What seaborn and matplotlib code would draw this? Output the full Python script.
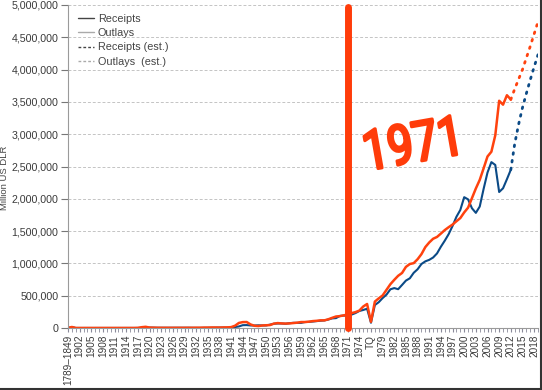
import numpy as np
import pandas as pd
import matplotlib
matplotlib.use('Agg')
import matplotlib.pyplot as plt
import seaborn as sns
from matplotlib.lines import Line2D
from matplotlib.textpath import TextPath
from matplotlib.patches import PathPatch
from matplotlib.font_manager import FontProperties
import matplotlib.transforms as mtransforms

# categories (fiscal years, with the 1976 transition quarter)
categories = (['1789–1849', '1850–1900'] + [str(y) for y in range(1901, 1977)]
              + ['TQ'] + [str(y) for y in range(1977, 2020)])

# million US dollars, actuals 1789 to 2012
receipts = [1160, 14462,
            588, 562, 562, 541, 544, 595, 666, 602, 604, 676,
            702, 693, 714, 725, 683, 761, 1101, 3645, 5130, 6649,
            5571, 4026, 3853, 3871, 3641, 3795, 4013, 3900, 3862, 4058,
            3116, 1924, 1997, 2955, 3609, 3923, 5387, 6751, 6295, 6548,
            8712, 14634, 24001, 43747, 45159, 39296, 38514, 41560, 39415, 39443,
            51616, 66167, 69608, 69701, 65451, 74587, 79990, 79636, 79249, 92492,
            94388, 99676, 106560, 112613, 116817, 130835, 148822, 152973, 186882, 192807,
            187139, 207309, 230799, 263224, 279090, 298060, 81232,
            355559, 399561, 463302, 517112,
            599272, 617766, 600562, 666438, 734037, 769155, 854288, 909238, 991104, 1031958,
            1054988, 1091208, 1154334, 1258566, 1351790, 1453053, 1579232, 1721728, 1827452, 2025191,
            1991082, 1853136, 1782314, 1880114, 2153611, 2406869, 2567985, 2523991, 2104989, 2162706,
            2303466, 2450164]

outlays = [1090, 15453,
           525, 485, 517, 584, 567, 570, 579, 659, 694, 694,
           691, 690, 715, 726, 746, 713, 1954, 12677, 18493, 6358,
           5062, 3289, 3140, 2908, 2924, 2930, 2857, 2961, 3127, 3320,
           3577, 4659, 4598, 6541, 6412, 8228, 7580, 6840, 9141, 9468,
           13653, 35137, 78555, 91304, 92712, 55232, 34496, 29764, 38835, 42562,
           45514, 67686, 76101, 70855, 68444, 70640, 76578, 82405, 92098, 92191,
           97723, 106821, 111316, 118528, 118228, 134532, 157464, 178134, 183640, 195649,
           210172, 230681, 245707, 269359, 332332, 371792, 95975,
           409218, 458746, 504028, 590941,
           678241, 745743, 808364, 851805, 946344, 990382, 1004017, 1064416, 1143743, 1252993,
           1324226, 1381529, 1409386, 1461752, 1515742, 1560484, 1601116, 1652458, 1701842, 1788950,
           1862846, 2010894, 2159899, 2292841, 2471957, 2655050, 2728686, 2982544, 3517677, 3457079,
           3603059, 3537127]

# estimates 2012 to 2019
est_years = ['2012', '2013', '2014', '2015', '2016', '2017', '2018', '2019']
receipts_est = [2450164, 2850000, 3150000, 3410000, 3630000, 3840000, 4040000, 4230000]
outlays_est = [3537127, 3700000, 3850000, 4000000, 4180000, 4360000, 4550000, 4740000]

pos = np.arange(len(categories))
df = pd.DataFrame({'pos': pos[:len(receipts)], 'Receipts': receipts, 'Outlays': outlays})
est_pos = [categories.index(y) for y in est_years]
df_est = pd.DataFrame({'pos': est_pos, 'Receipts (est.)': receipts_est,
                       'Outlays  (est.)': outlays_est})

sns.set_style('white')
plt.rcParams['font.family'] = ['Liberation Sans', 'DejaVu Sans']

blue = '#0b4a86'
red = '#ff420e'

fig = plt.figure(figsize=(5.42, 3.9), dpi=100)
ax = fig.add_axes([68 / 542, 62 / 390, 470 / 542, 323 / 390])

sns.lineplot(data=df, x='pos', y='Receipts', ax=ax, color=blue, lw=1.5)
sns.lineplot(data=df, x='pos', y='Outlays', ax=ax, color=red, lw=1.8)
sns.lineplot(data=df_est, x='pos', y='Receipts (est.)', ax=ax, color=blue, lw=2,
             linestyle=(0, (0.6, 2.2)), dash_capstyle='round')
sns.lineplot(data=df_est, x='pos', y='Outlays  (est.)', ax=ax, color=red, lw=2,
             linestyle=(0, (0.6, 2.2)), dash_capstyle='round')

ax.set_xlim(0, len(categories) - 1)
ax.set_ylim(0, 5000000)
ax.set_yticks(np.arange(0, 5000001, 500000))
ax.set_yticklabels([f'{v:,}' for v in range(0, 5000001, 500000)])
ax.set_xticks(pos[::3])
ax.set_xticklabels(categories[::3], rotation=90)
ax.set_xticks(pos, minor=True)
ax.tick_params(axis='x', which='both', length=3, color='#8a8a9a', labelsize=7.2,
               labelcolor='#3a3a3a', pad=2, bottom=True)
ax.tick_params(axis='y', length=5, color='#777777', labelsize=7.7,
               labelcolor='#3a3a3a', pad=2, left=True)
ax.grid(axis='y', color='#c4c4c4', linestyle=(0, (3, 2)), lw=0.7)
ax.grid(axis='x', visible=False)
for s in ['top', 'right']:
    ax.spines[s].set_visible(False)
for s in ['left', 'bottom']:
    ax.spines[s].set_color('#9a9a9a')
    ax.spines[s].set_linewidth(0.8)
ax.set_xlabel('')
ax.set_ylabel('')
fig.text(5 / 542, 1 - 178 / 390, 'Million US DLR', rotation=90, ha='center', va='center',
         fontsize=6.8, color='#444444')

handles = [Line2D([], [], color='#444444', lw=1),
           Line2D([], [], color='#aaaaaa', lw=1),
           Line2D([], [], color='#444444', lw=1, linestyle=(0, (2, 1.5))),
           Line2D([], [], color='#aaaaaa', lw=1, linestyle=(0, (2, 1.5)))]
ax.legend(handles, ['Receipts', 'Outlays', 'Receipts (est.)', 'Outlays  (est.)'],
          loc='upper left', bbox_to_anchor=(0.0, 1.003), frameon=False, fontsize=7.8,
          handlelength=1.5, handletextpad=0.35, labelspacing=0.4, labelcolor='#444444')

# hand drawn 1971 marker
mark = '#ff3c0a'
ax.axvline(categories.index('1971'), ymin=0.0, ymax=0.995, color=mark, lw=5,
           solid_capstyle='round', clip_on=False, zorder=6)

fp = FontProperties(family='Roboto')
tp = TextPath((0, 0), '1971', size=1, prop=fp)
ext = tp.get_extents()
sx = 88 / ext.width
sy = 40 / ext.height
tr = (mtransforms.Affine2D().translate(-ext.x0, -ext.y0).scale(sx, sy)
      .rotate_deg(10).translate(370, 390 - 170))
patch = PathPatch(tr.transform_path(tp), facecolor=mark, edgecolor=mark, lw=2.2,
                  joinstyle='round', capstyle='round',
                  transform=mtransforms.IdentityTransform(), zorder=7)
fig.add_artist(patch)

# screenshot edge
fig.add_artist(Line2D([0.9975, 0.9975], [0, 1], transform=fig.transFigure,
                      color='#333333', lw=1.5))
fig.add_artist(Line2D([0, 1], [0.003, 0.003], transform=fig.transFigure,
                      color='#333333', lw=1.5))

fig.savefig('out.png', dpi=100)
